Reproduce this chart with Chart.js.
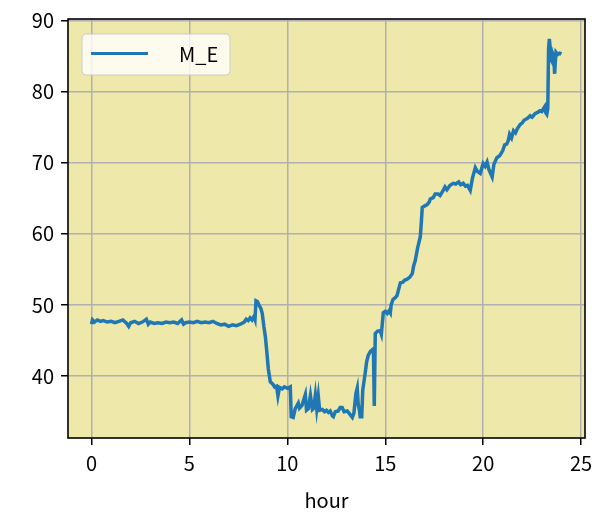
<!DOCTYPE html>
<html>
<head>
<meta charset="utf-8">
<script src="https://cdn.jsdelivr.net/npm/chart.js@4/dist/chart.umd.min.js"></script>
<style>
  html, body { margin: 0; padding: 0; background: #fff; }
  #wrap { width: 599px; height: 526px; }
</style>
</head>
<body>
<div id="wrap"><canvas id="chart" width="599" height="526"></canvas></div>
<script>
const seriesName = 'M_E';
const xTitle = 'hour';
const xTicks = [0, 5, 10, 15, 20, 25];
const yTicks = [40, 50, 60, 70, 80, 90];

// hour of day
const hours = [
  0.00, 0.05, 0.15, 0.3, 0.45, 0.6, 0.8, 1.0, 1.2, 1.4, 1.6, 1.8, 1.9, 2.0, 2.2, 2.4, 2.6, 2.8, 2.9, 3.0,
  3.2, 3.4, 3.6, 3.8, 4.0, 4.2, 4.4, 4.6, 4.7, 4.8, 5.0, 5.2, 5.4, 5.6, 5.8, 6.0, 6.2, 6.4, 6.6, 6.8,
  7.0, 7.2, 7.4, 7.6, 7.8, 7.9, 8.0, 8.1, 8.2, 8.3, 8.35, 8.4, 8.47, 8.55, 8.65, 8.72, 8.8, 8.88, 8.95, 9.03,
  9.13, 9.25, 9.35, 9.45, 9.52, 9.6, 9.74, 9.85, 10.0, 10.15, 10.2, 10.3, 10.4, 10.56, 10.62, 10.75, 10.92, 10.98, 11.07, 11.18,
  11.28, 11.35, 11.43, 11.5, 11.58, 11.65, 11.79, 11.9, 12.0, 12.1, 12.19, 12.3, 12.35, 12.45, 12.6, 12.7, 12.8, 12.9, 13.06, 13.15,
  13.32, 13.4, 13.5, 13.57, 13.62, 13.68, 13.72, 13.8, 13.85, 13.98, 14.05, 14.13, 14.25, 14.34, 14.4, 14.44, 14.49, 14.6, 14.74, 14.8,
  14.9, 15.0, 15.1, 15.2, 15.26, 15.3, 15.4, 15.5, 15.6, 15.77, 15.9, 16.0, 16.1, 16.25, 16.38, 16.45, 16.53, 16.65, 16.79, 16.84,
  16.89, 17.0, 17.14, 17.25, 17.3, 17.45, 17.55, 17.7, 17.8, 17.96, 18.05, 18.15, 18.3, 18.47, 18.6, 18.75, 18.85, 18.98, 19.1, 19.2,
  19.34, 19.45, 19.6, 19.7, 19.85, 20.0, 20.1, 20.2, 20.3, 20.46, 20.55, 20.7, 20.85, 21.0, 21.1, 21.2, 21.28, 21.35, 21.45, 21.55,
  21.65, 21.75, 21.9, 22.0, 22.1, 22.25, 22.4, 22.5, 22.65, 22.8, 22.9, 23.0, 23.1, 23.15, 23.2, 23.25, 23.3, 23.34, 23.38, 23.42,
  23.46, 23.5, 23.55, 23.6, 23.65, 23.68, 23.72, 23.8, 23.9, 24.0
];

const values = [
  47.3, 47.9, 47.6, 47.9, 47.7, 47.8, 47.6, 47.7, 47.5, 47.7, 47.9, 47.4, 47.0, 47.5, 47.7, 47.4, 47.6, 48.0, 47.3, 47.6,
  47.4, 47.5, 47.4, 47.6, 47.5, 47.6, 47.4, 47.9, 47.3, 47.5, 47.6, 47.5, 47.7, 47.5, 47.6, 47.5, 47.7, 47.4, 47.2, 47.3,
  47.0, 47.2, 47.1, 47.3, 47.6, 48.0, 47.8, 48.2, 47.9, 48.4, 48.0, 50.6, 50.5, 50.0, 49.5, 48.8, 47.0, 45.5, 43.5, 41.0,
  39.2, 38.9, 38.5, 38.6, 37.2, 38.4, 38.2, 38.5, 38.3, 38.5, 34.3, 34.2, 35.4, 36.2, 35.5, 35.9, 37.4, 35.2, 35.4, 37.3,
  35.3, 35.5, 37.3, 35.4, 37.2, 35.2, 35.3, 35.0, 35.2, 34.9, 35.1, 34.4, 34.3, 35.0, 35.1, 35.6, 35.6, 35.0, 35.1, 34.8,
  34.2, 34.8, 37.5, 38.3, 36.0, 35.2, 34.3, 34.3, 38.0, 40.5, 42.0, 42.9, 43.5, 43.7, 43.2, 35.8, 46.0, 46.3, 46.4, 45.9,
  48.9, 49.1, 48.8, 49.2, 48.9, 50.0, 50.8, 51.0, 51.3, 53.1, 53.2, 53.5, 53.6, 53.9, 54.4, 55.5, 56.2, 58.0, 59.6, 61.5,
  63.7, 63.9, 64.1, 64.5, 64.9, 65.1, 65.6, 65.6, 65.4, 66.1, 66.6, 66.2, 66.8, 67.1, 67.0, 67.3, 66.9, 67.1, 66.7, 66.8,
  66.1, 67.8, 69.3, 68.8, 68.5, 69.9, 69.5, 70.1, 69.0, 68.0, 69.8, 70.7, 71.0, 71.7, 72.5, 72.6, 73.1, 74.0, 73.5, 74.5,
  74.2, 74.8, 75.4, 75.6, 76.0, 76.2, 76.6, 76.4, 76.9, 77.1, 77.3, 77.2, 77.7, 77.9, 77.0, 76.8, 77.6, 86.0, 87.4, 86.2,
  84.5, 84.3, 85.3, 84.9, 82.5, 84.0, 85.5, 85.2, 85.4, 85.3
];

const FONT = '"Noto Sans CJK JP", "Noto Sans", sans-serif';

// axes background, frame and the legend box, drawn like matplotlib
const frame = {
  id: 'frame',
  beforeDraw(chart) {
    const { ctx, chartArea: a } = chart;
    ctx.save();
    ctx.fillStyle = '#eee8aa';
    ctx.fillRect(a.left, a.top, a.right - a.left, a.bottom - a.top);
    ctx.restore();
  },
  afterDatasetsDraw(chart) {
    const { ctx, chartArea: a } = chart;
    ctx.save();
    ctx.strokeStyle = '#000';
    ctx.lineWidth = 1.6;
    ctx.strokeRect(a.left, a.top, a.right - a.left, a.bottom - a.top);

    // legend
    const x = a.left + 14, y = a.top + 15, w = 148, h = 41, r = 4;
    ctx.beginPath();
    ctx.moveTo(x + r, y);
    ctx.arcTo(x + w, y, x + w, y + h, r);
    ctx.arcTo(x + w, y + h, x, y + h, r);
    ctx.arcTo(x, y + h, x, y, r);
    ctx.arcTo(x, y, x + w, y, r);
    ctx.closePath();
    ctx.fillStyle = 'rgba(255,255,255,0.8)';
    ctx.fill();
    ctx.strokeStyle = '#cccccc';
    ctx.lineWidth = 1;
    ctx.stroke();

    ctx.beginPath();
    ctx.moveTo(x + 9, y + 19.5);
    ctx.lineTo(x + 66, y + 19.5);
    ctx.strokeStyle = '#1f77b4';
    ctx.lineWidth = 3;
    ctx.stroke();

    ctx.fillStyle = '#000';
    ctx.font = '20px ' + FONT;
    ctx.textBaseline = 'middle';
    ctx.textAlign = 'left';
    ctx.fillText(chart.data.datasets[0].label, x + 97, y + 20);
    ctx.restore();
  }
};

new Chart('chart', {
  type: 'line',
  data: {
    datasets: [{
      label: seriesName,
      data: hours.map((h, i) => ({ x: h, y: values[i] })),
      borderColor: '#1f77b4',
      borderWidth: 3.5,
      pointRadius: 0,
      tension: 0,
      fill: false
    }]
  },
  options: {
    responsive: false,
    animation: false,
    layout: { padding: { top: 18, right: 14, left: 0, bottom: 0 } },
    plugins: {
      legend: { display: false },
      tooltip: { enabled: false }
    },
    scales: {
      x: {
        type: 'linear',
        min: -1.2,
        max: 25.2,
        afterBuildTicks: s => { s.ticks = xTicks.map(v => ({ value: v })); },
        afterFit: s => { s.height = 88; },
        border: { display: false },
        grid: { color: '#b0b0b0', lineWidth: 1.5, tickColor: '#000', tickLength: 7, tickWidth: 1.5 },
        ticks: { color: '#000', font: { family: FONT, size: 20 }, padding: 6, maxRotation: 0 },
        title: { display: true, text: xTitle, color: '#000', font: { family: FONT, size: 20 }, padding: { top: 0, bottom: 14 } }
      },
      y: {
        type: 'linear',
        min: 31.3,
        max: 90.2,
        afterBuildTicks: s => { s.ticks = yTicks.map(v => ({ value: v })); },
        afterFit: s => { s.width = 68; },
        border: { display: false },
        grid: { color: '#b0b0b0', lineWidth: 1.5, tickColor: '#000', tickLength: 7, tickWidth: 1.5 },
        ticks: { color: '#000', font: { family: FONT, size: 20 }, padding: 7 }
      }
    }
  },
  plugins: [frame]
});
</script>
</body>
</html>
